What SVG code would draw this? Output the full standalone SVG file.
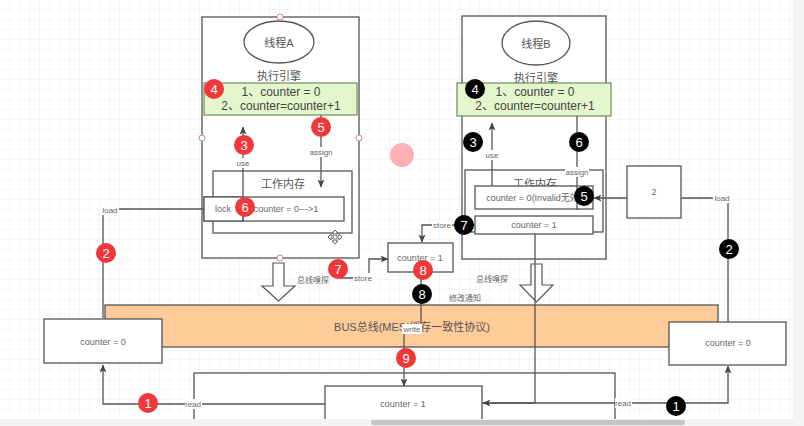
<svg xmlns="http://www.w3.org/2000/svg" width="804" height="426" viewBox="0 0 804 426">
<defs>
<pattern id="grid" width="10" height="10" patternUnits="userSpaceOnUse">
<path d="M10,0 V10 M0,10 H10" fill="none" stroke="#ededed" stroke-width="1"/>
</pattern>
<marker id="arr" viewBox="0 0 8 7" markerWidth="8" markerHeight="7" refX="7.5" refY="3.5" orient="auto" markerUnits="userSpaceOnUse">
<path d="M0,0 L8,3.5 L0,7 L2,3.5 Z" fill="#444"/>
</marker>
</defs>
<style>
text{font-family:"Liberation Sans","Noto Sans CJK SC",sans-serif;fill:#555;text-anchor:middle;dominant-baseline:central}
.box{fill:#fff;stroke:#555;stroke-width:1.3}
.big{font-size:11px}
.code{font-size:12px;fill:#444}
.sm{font-size:9px;fill:#666}
.lbl{font-size:8px;fill:#666}
.lbg{fill:#fff}
.conn path{fill:none;stroke:#555;stroke-width:1.3}
.badge text{font-size:13px;fill:#fff}
.red{fill:#f0383a}
.blk{fill:#000}
.handle{fill:#fff;stroke:#c98a99;stroke-width:1}
.hollow{fill:#fff;stroke:#555;stroke-width:1.2}
</style>
<rect width="804" height="426" fill="#fff"/>
<rect width="804" height="426" fill="url(#grid)"/>

<g id="main-memory">
<rect class="box" x="194" y="373" width="421" height="70"/>
</g>

<g id="bus">
<rect x="105" y="305" width="613" height="42" fill="#ffcc99" stroke="#555" stroke-width="1.3"/>
<text class="big" x="412" y="327">BUS总线(MESI缓存一致性协议)</text>
</g>

<g id="threadA">
<rect class="box" x="202" y="17" width="157" height="241"/>
<ellipse cx="279" cy="42" rx="35" ry="21" fill="#fff" stroke="#555" stroke-width="1.3"/>
<text class="big" x="279" y="43">线程A</text>
<text class="big" x="279" y="76">执行引擎</text>
<rect x="204" y="83" width="153" height="32" fill="#e4f6cb" stroke="#6f8a5e" stroke-width="1.2"/>
<text class="code" x="281" y="92">1、counter = 0</text>
<text class="code" x="281" y="106">2、counter=counter+1</text>
</g>
<g id="workmemA">
<rect class="box" x="213" y="171" width="139" height="62"/>
<text class="big" x="283" y="184">工作内存</text>
<rect class="box" x="204" y="197" width="140" height="24"/>
<rect class="box" x="204" y="197" width="39" height="24"/>
<text class="sm" x="223" y="209">lock</text>
<text class="sm" x="286" y="209">counter = 0---&gt;1</text>
</g>
<path d="M335,230 L338,233 L336,233 L336,236 L339,236 L339,234 L342,237 L339,240 L339,238 L336,238 L336,241 L338,241 L335,244 L332,241 L334,241 L334,238 L331,238 L331,240 L328,237 L331,234 L331,236 L334,236 L334,233 L332,233 Z" fill="#fff" stroke="#666" stroke-width="1"/>

<g id="threadB">
<rect class="box" x="462" y="16" width="144" height="243"/>
<ellipse cx="536" cy="43" rx="34" ry="22" fill="#fff" stroke="#555" stroke-width="1.3"/>
<text class="big" x="536" y="44">线程B</text>
<text class="big" x="536" y="78">执行引擎</text>
<rect x="457" y="83" width="154" height="33" fill="#e4f6cb" stroke="#6f8a5e" stroke-width="1.2"/>
<text class="code" x="535" y="92">1、counter = 0</text>
<text class="code" x="535" y="106">2、counter=counter+1</text>
</g>
<g id="workmemB">
<rect class="box" x="465" y="170" width="138" height="62"/>
<text class="big" x="535" y="184">工作内存</text>
<rect class="box" x="475" y="186" width="118" height="23"/>
<text class="sm" x="534" y="198">counter = 0(Invalid无效)</text>
<rect class="box" x="475" y="216" width="118" height="18"/>
<text class="sm" x="534" y="225">counter = 1</text>
</g>

<g id="value2">
<rect class="box" x="627" y="166" width="54" height="52"/>
<text class="sm" x="654" y="192">2</text>
</g>
<g id="mid-counter">
<rect class="box" x="388" y="243" width="65" height="29"/>
<text class="sm" x="420" y="258">counter = 1</text>
</g>
<g id="left-counter">
<rect class="box" x="44" y="319" width="118" height="44"/>
<text class="sm" x="103" y="342">counter = 0</text>
</g>
<g id="right-counter">
<rect class="box" x="669" y="322" width="117" height="43"/>
<text class="sm" x="728" y="343">counter = 0</text>
</g>
<g id="bottom-counter">
<rect class="box" x="325" y="386" width="157" height="60"/>
<text class="sm" x="403" y="404">counter = 1</text>
</g>

<g id="hollow-arrows">
<polygon class="hollow" points="273,263 284,263 284,286 295,286 278.5,301 262,286 273,286"/>
<polygon class="hollow" points="531,264 542,264 542,285 553,285 536.5,302 520,285 531,285"/>
</g>

<g class="conn" id="connectors">
<path d="M204,209 H103 V318"/>
<path d="M325,404 H103 V365" marker-end="url(#arr)"/>
<path d="M243,221 V127" marker-end="url(#arr)"/>
<path d="M321,115 V187" marker-end="url(#arr)"/>
<path d="M340,278 H369 V259 H388" marker-end="url(#arr)"/>
<path d="M421,272 V329 H404 V386" marker-end="url(#arr)"/>
<path d="M482,403 H728 V366" marker-end="url(#arr)"/>
<path d="M728,322 V198 H681"/>
<path d="M627,198 H594" marker-end="url(#arr)"/>
<path d="M492,186 V123" marker-end="url(#arr)"/>
<path d="M577,116 V210"/>
<path d="M475,225 H422 V242" marker-end="url(#arr)"/>
<path d="M535,234 V403 H483" marker-end="url(#arr)"/>
</g>

<g id="labels">
<rect class="lbg" x="101" y="205" width="18" height="10"/><text class="lbl" x="110" y="210">load</text>
<rect class="lbg" x="185" y="399" width="17" height="10"/><text class="lbl" x="193" y="404">read</text>
<rect class="lbg" x="236" y="158" width="14" height="10"/><text class="lbl" x="243" y="163">use</text>
<rect class="lbg" x="309" y="147" width="24" height="10"/><text class="lbl" x="321" y="152">assign</text>
<rect class="lbg" x="353" y="273" width="20" height="10"/><text class="lbl" x="363" y="278">store</text>
<rect class="lbg" x="432" y="220" width="20" height="10"/><text class="lbl" x="442" y="225">store</text>
<rect class="lbg" x="402" y="324" width="20" height="10"/><text class="lbl" x="412" y="329">write</text>
<rect class="lbg" x="485" y="150" width="14" height="10"/><text class="lbl" x="492" y="155">use</text>
<rect class="lbg" x="565" y="167" width="24" height="10"/><text class="lbl" x="577" y="172">assign</text>
<rect class="lbg" x="713" y="193" width="18" height="10"/><text class="lbl" x="722" y="198">load</text>
<rect class="lbg" x="615" y="398" width="17" height="10"/><text class="lbl" x="623" y="403">read</text>
<text class="lbl" x="313" y="280">总线嗅探</text>
<text class="lbl" x="492" y="279">总线嗅探</text>
<text class="lbl" x="465" y="298">修改通知</text>
</g>

<g id="handles">
<circle class="handle" cx="280" cy="17" r="3"/>
<circle class="handle" cx="202" cy="138" r="3"/>
<circle class="handle" cx="359" cy="138" r="3"/>
<circle class="handle" cx="280" cy="258" r="3"/>
</g>

<g class="badge" id="badges">
<circle class="red" cx="214" cy="89" r="10"/><text x="214" y="89">4</text>
<circle class="red" cx="321" cy="127" r="10"/><text x="321" y="127">5</text>
<circle class="red" cx="244" cy="145" r="10"/><text x="244" y="145">3</text>
<circle class="red" cx="245" cy="207" r="10"/><text x="245" y="207">6</text>
<circle class="red" cx="106" cy="253" r="10"/><text x="106" y="253">2</text>
<circle class="red" cx="148" cy="403" r="10"/><text x="148" y="403">1</text>
<circle class="red" cx="338" cy="269" r="10"/><text x="338" y="269">7</text>
<circle class="red" cx="423" cy="270" r="10"/><text x="423" y="270">8</text>
<circle class="red" cx="406" cy="358" r="10"/><text x="406" y="358">9</text>
<circle class="blk" cx="475" cy="89" r="10"/><text x="475" y="89">4</text>
<circle class="blk" cx="473" cy="142" r="10"/><text x="473" y="142">3</text>
<circle class="blk" cx="579" cy="142" r="10"/><text x="579" y="142">6</text>
<circle class="blk" cx="584" cy="196" r="10"/><text x="584" y="196">5</text>
<circle class="blk" cx="464" cy="225" r="10"/><text x="464" y="225">7</text>
<circle class="blk" cx="422" cy="294" r="10"/><text x="422" y="294">8</text>
<circle class="blk" cx="729" cy="249" r="10"/><text x="729" y="249">2</text>
<circle class="blk" cx="676" cy="406" r="10"/><text x="676" y="406">1</text>
</g>

<circle cx="402" cy="155" r="12" fill="#ffb0b5"/>

<g id="scrollbars">
<rect x="793" y="0" width="11" height="426" fill="#f3f3f3"/>
<rect x="0" y="419" width="804" height="7" fill="#f3f3f3"/>
<rect x="371" y="420" width="314" height="5" rx="2" fill="#c4c4c4"/>
</g>
</svg>
